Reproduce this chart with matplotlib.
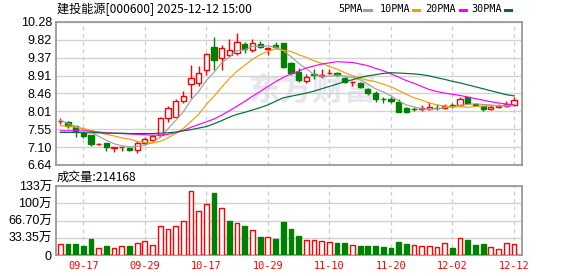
import matplotlib
matplotlib.use("Agg")
import matplotlib.pyplot as plt
from matplotlib.lines import Line2D
import numpy as np

# trading days shown (Sep 12 .. Dec 12, 2025)
dates = ["09-12", "09-15", "09-16", "09-17", "09-18", "09-19", "09-22", "09-23", "09-24", "09-25",
         "09-26", "09-29", "09-30", "10-09", "10-10", "10-13", "10-14", "10-15", "10-16", "10-17",
         "10-20", "10-21", "10-22", "10-23", "10-24", "10-27", "10-28", "10-29", "10-30", "10-31",
         "11-03", "11-04", "11-05", "11-06", "11-07", "11-10", "11-11", "11-12", "11-13", "11-14",
         "11-17", "11-18", "11-19", "11-20", "11-21", "11-24", "11-25", "11-26", "11-27", "11-28",
         "12-01", "12-02", "12-03", "12-04", "12-05", "12-08", "12-09", "12-10", "12-11", "12-12"]

opens = [7.76, 7.74, 7.62, 7.46, 7.40, 7.17, 7.20, 7.08, 7.10, 7.08,
         7.02, 7.21, 7.28, 7.41, 7.83, 7.87, 8.28, 8.69, 8.72, 9.07,
         9.64, 9.36, 9.44, 9.48, 9.72, 9.57, 9.72, 9.60, 9.69, 9.74,
         9.23, 9.01, 8.79, 8.95, 8.91, 8.97, 8.99, 8.85, 8.75, 8.72,
         8.57, 8.48, 8.32, 8.33, 8.25, 8.08, 8.07, 8.07, 8.06, 8.10,
         8.08, 8.155, 8.16, 8.36, 8.19, 8.13, 8.07, 8.12, 8.14, 8.16]
highs = [7.83, 7.76, 7.62, 7.51, 7.40, 7.20, 7.21, 7.10, 7.11, 7.10,
         7.26, 7.34, 7.40, 7.87, 8.14, 8.31, 8.52, 9.19, 9.15, 9.49,
         9.90, 9.69, 9.84, 10.01, 9.78, 9.84, 9.80, 9.65, 9.76, 9.75,
         9.27, 9.10, 8.95, 9.08, 9.08, 9.08, 9.00, 8.89, 8.77, 8.76,
         8.61, 8.52, 8.36, 8.38, 8.31, 8.11, 8.12, 8.17, 8.25, 8.19,
         8.19, 8.21, 8.38, 8.38, 8.20, 8.14, 8.17, 8.18, 8.28, 8.36]
lows = [7.69, 7.57, 7.36, 7.32, 7.13, 7.14, 7.00, 6.96, 7.00, 7.00,
        6.95, 7.15, 7.26, 7.36, 7.74, 7.86, 8.21, 8.35, 8.64, 8.92,
        9.07, 9.06, 9.38, 9.44, 9.48, 9.52, 9.61, 9.44, 9.58, 9.10,
        8.93, 8.74, 8.72, 8.84, 8.85, 8.95, 8.91, 8.72, 8.65, 8.59,
        8.42, 8.24, 8.23, 8.22, 7.98, 7.97, 8.02, 8.02, 8.05, 8.04,
        8.07, 8.08, 8.15, 8.19, 8.15, 8.02, 8.04, 8.08, 8.12, 8.15]
closes = [7.77, 7.62, 7.51, 7.37, 7.17, 7.18, 7.11, 7.09, 7.11, 7.03,
          7.21, 7.31, 7.38, 7.83, 8.08, 8.27, 8.40, 8.85, 8.97, 9.46,
          9.32, 9.61, 9.57, 9.78, 9.59, 9.74, 9.64, 9.61, 9.64, 9.14,
          8.97, 8.80, 8.89, 8.92, 8.93, 8.98, 8.93, 8.74, 8.76, 8.62,
          8.47, 8.32, 8.31, 8.26, 7.98, 7.98, 8.065, 8.08, 8.12, 8.09,
          8.15, 8.145, 8.31, 8.21, 8.16, 8.07, 8.12, 8.14, 8.19, 8.30]

# volume in 万
volume = [21, 21, 21, 17.4, 31, 13, 17, 13, 17, 17,
          22.5, 26.5, 18.7, 55.5, 49.7, 55.5, 65, 123, 86, 98,
          120, 90, 65.7, 62, 56, 47.7, 34, 34, 31, 64,
          50, 36.7, 28.3, 28.3, 26.5, 24.5, 23.2, 23.2, 18.7, 17.4,
          17.4, 17.4, 15.5, 13.5, 25, 21, 18.7, 16.8, 16.8, 14.8,
          22.5, 13.5, 32.3, 29, 19.3, 21.3, 14.8, 11, 22.5, 21.4]
volume_up = [1, 0, 0, 0, 0, 1, 0, 1, 1, 0,
             1, 1, 1, 1, 1, 1, 1, 1, 1, 1,
             0, 1, 0, 1, 0, 1, 0, 1, 0, 0,
             0, 0, 1, 1, 1, 1, 0, 0, 1, 0,
             0, 0, 0, 0, 0, 0, 1, 1, 1, 1,
             1, 0, 1, 0, 0, 0, 1, 1, 1, 1]

ma5 = [7.78, 7.70, 7.62, 7.55, 7.49, 7.37, 7.27, 7.18, 7.13, 7.10,
       7.11, 7.15, 7.21, 7.35, 7.56, 7.77, 7.99, 8.29, 8.51, 8.79,
       9.00, 9.24, 9.39, 9.55, 9.57, 9.66, 9.66, 9.67, 9.64, 9.55,
       9.40, 9.23, 9.09, 8.94, 8.90, 8.90, 8.93, 8.90, 8.87, 8.81,
       8.70, 8.58, 8.50, 8.40, 8.27, 8.17, 8.12, 8.07, 8.05, 8.07,
       8.10, 8.12, 8.16, 8.18, 8.20, 8.18, 8.17, 8.14, 8.14, 8.16]
ma10 = [7.64, 7.63, 7.60, 7.57, 7.52, 7.47, 7.42, 7.38, 7.33, 7.30,
        7.24, 7.21, 7.20, 7.24, 7.33, 7.44, 7.57, 7.75, 7.93, 8.18,
        8.39, 8.62, 8.84, 9.03, 9.18, 9.33, 9.45, 9.53, 9.60, 9.56,
        9.53, 9.45, 9.38, 9.29, 9.23, 9.15, 9.08, 8.99, 8.91, 8.85,
        8.80, 8.76, 8.70, 8.63, 8.54, 8.44, 8.35, 8.29, 8.22, 8.17,
        8.14, 8.12, 8.12, 8.11, 8.13, 8.14, 8.15, 8.15, 8.16, 8.18]
ma20 = [7.51, 7.51, 7.51, 7.51, 7.50, 7.48, 7.46, 7.45, 7.44, 7.43,
        7.42, 7.41, 7.40, 7.40, 7.42, 7.46, 7.52, 7.60, 7.67, 7.74,
        7.81, 7.91, 8.02, 8.14, 8.26, 8.39, 8.51, 8.64, 8.76, 8.87,
        8.96, 9.03, 9.11, 9.16, 9.21, 9.24, 9.27, 9.26, 9.25, 9.21,
        9.17, 9.10, 9.04, 8.96, 8.88, 8.79, 8.72, 8.64, 8.56, 8.51,
        8.47, 8.44, 8.41, 8.37, 8.33, 8.29, 8.25, 8.22, 8.19, 8.17]
ma30 = [7.47, 7.47, 7.47, 7.46, 7.46, 7.46, 7.45, 7.45, 7.45, 7.44,
        7.44, 7.44, 7.44, 7.45, 7.46, 7.48, 7.51, 7.54, 7.58, 7.62,
        7.69, 7.77, 7.86, 7.93, 7.98, 8.04, 8.10, 8.17, 8.26, 8.35,
        8.39, 8.43, 8.47, 8.52, 8.58, 8.64, 8.70, 8.76, 8.81, 8.87,
        8.91, 8.94, 8.97, 8.99, 8.98, 8.97, 8.96, 8.94, 8.91, 8.86,
        8.82, 8.77, 8.73, 8.68, 8.63, 8.58, 8.53, 8.48, 8.43, 8.40]

price_ticks = ["6.64", "7.10", "7.55", "8.01", "8.46", "8.91", "9.37", "9.82", "10.28"]
vol_ticks = [0, 33.35, 66.70, 100.05, 133.4]
vol_tick_labels = ["0", "33.35万", "66.70万", "100万", "133万"]
date_ticks = ["09-17", "09-29", "10-17", "10-29", "11-10", "11-20", "12-02", "12-12"]

title = "建投能源[000600] 2025-12-12 15:00"
vol_title = "成交量:214168"
ma_names = ["5PMA", "10PMA", "20PMA", "30PMA"]
ma_colors = ["#a0a0a0", "#f0a000", "#ff00ff", "#006e32"]

RED = "#ff0000"
GREEN = "#008000"
W, H = 578, 276
CJK = ["Noto Sans CJK SC", "DejaVu Sans"]
NUM = ["Liberation Sans", "Noto Sans CJK SC"]
MONO = ["DejaVu Sans Mono"]

fig = plt.figure(figsize=(W / 100, H / 100), dpi=100)
ax = fig.add_axes([56 / W, 1 - 165 / H, 466 / W, 143 / H])
axv = fig.add_axes([56 / W, 1 - 255 / H, 466 / W, 69 / H])

x = np.arange(len(dates))
o, h, l, c = map(np.array, (opens, highs, lows, closes))
up = c >= o
cols = np.where(up, RED, GREEN)
date_pos = [dates.index(d) for d in date_ticks]

for a in (ax, axv):
    a.set_xlim(-0.55, 60.05)
    for s in a.spines.values():
        s.set_color("#9a9a9a")
        s.set_linewidth(1.3)
    a.tick_params(length=0, pad=3, labelsize=9)
    a.set_axisbelow(True)
    a.grid(axis="y", color="#d2d2d2", linewidth=1.0)
    for p in date_pos:
        a.axvline(p, color="#cccccc", linewidth=0.9, linestyle=(0, (3, 3)), zorder=0.5)

# watermark
ax.text(312 / W, 1 - 92 / H, "东方财富", transform=fig.transFigure, fontsize=23,
        fontweight="bold", color="#e6e6ee", ha="center", va="center",
        family=CJK, zorder=0.2)

# price panel
ymin, ymax = 6.64, 10.28
ax.set_ylim(ymin, ymax)
ax.set_yticks(np.linspace(ymin, ymax, len(price_ticks)))
ax.set_yticklabels(price_ticks, family=NUM)
ax.set_xticks([])

ax.vlines(x, l, h, colors=cols, linewidth=1.0, zorder=2)
ax.bar(x, c - o, bottom=o, width=0.68, color=np.where(up, "white", GREEN),
       edgecolor=cols, linewidth=1.0, zorder=3)

for vals, col in zip((ma5, ma10, ma20, ma30), ma_colors):
    ax.plot(x, vals, color=col, linewidth=0.85, zorder=4)

# volume panel
axv.set_ylim(0, vol_ticks[-1])
axv.set_yticks(vol_ticks)
axv.set_yticklabels(vol_tick_labels, family=NUM)
vcols = np.where(np.array(volume_up) == 1, RED, GREEN)
axv.bar(x, volume, width=0.62, color=np.where(np.array(volume_up) == 1, "white", GREEN),
        edgecolor=vcols, linewidth=1.0, zorder=3)
axv.set_xticks(date_pos)
axv.set_xticklabels(date_ticks, family=MONO, fontsize=7.4, color=RED)
axv.tick_params(axis="x", pad=4)

# header texts
fig.text(57 / W, 1 - 9 / H, title, family=CJK, fontsize=8.7, va="center", ha="left")
fig.text(57 / W, 1 - 177 / H, vol_title, family=CJK, fontsize=8.7, va="center", ha="left")

text_x = [338.5, 379.5, 425.5, 471]
dash_x = [364.5, 413, 459.5, 505]
for name, tx, dx, col in zip(ma_names, text_x, dash_x, ma_colors):
    fig.text(tx / W, 1 - 9 / H, name, family=MONO, fontsize=7.3, va="center", ha="left")
    fig.add_artist(Line2D([dx / W, (dx + 6) / W], [1 - 9.5 / H, 1 - 9.5 / H],
                          transform=fig.transFigure, color=col, linewidth=2.2))

fig.savefig("out.png", dpi=100)
